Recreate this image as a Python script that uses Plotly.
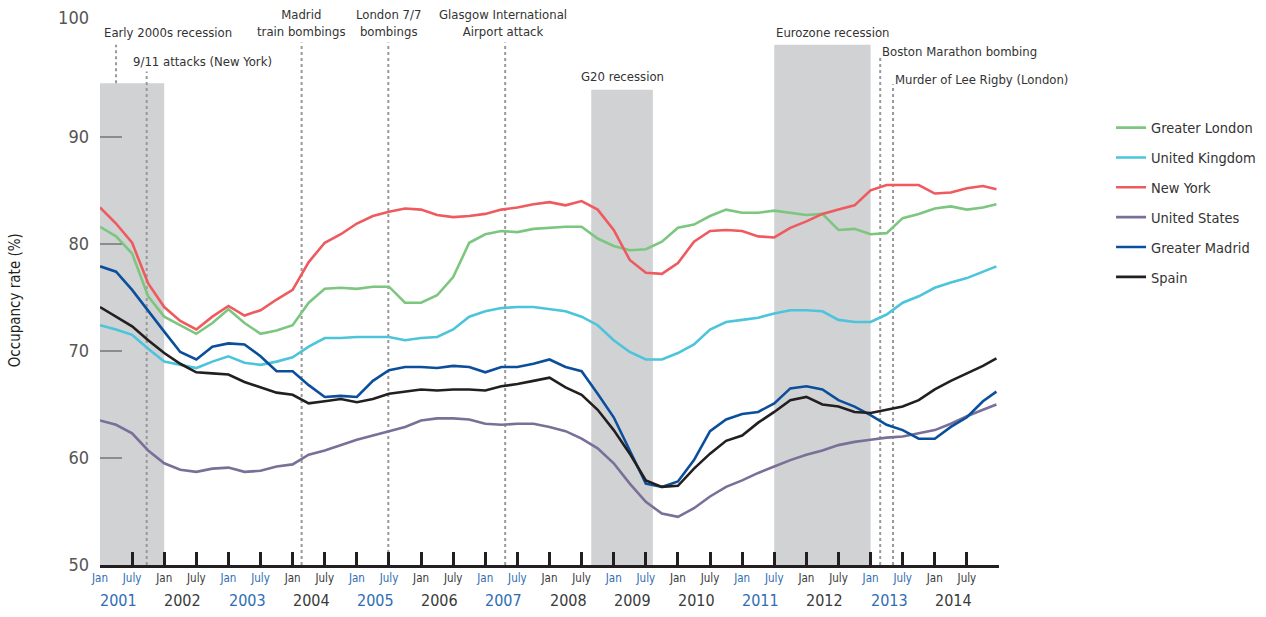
import plotly.graph_objects as go

# ---------------- data (quarterly readings, decimal years) ----------------
n_q = 56
t = [2001 + 0.25 * i for i in range(n_q)] + [2014.96]

greater_london = [81.6, 80.7, 79.1, 75.1, 73.2, 72.4, 71.6, 72.6, 73.9, 72.6, 71.6, 71.9,
                  72.4, 74.5, 75.8, 75.9, 75.8, 76.0, 76.0, 74.5, 74.5, 75.2, 76.9, 80.1,
                  80.9, 81.2, 81.1, 81.4, 81.5, 81.6, 81.6, 80.5, 79.8, 79.4, 79.5, 80.2,
                  81.5, 81.8, 82.6, 83.2, 82.9, 82.9, 83.1, 82.9, 82.7, 82.8, 81.3, 81.4,
                  80.9, 81.0, 82.4, 82.8, 83.3, 83.5, 83.2, 83.4, 83.7]
united_kingdom = [72.4, 72.0, 71.5, 70.2, 69.0, 68.7, 68.4, 69.0, 69.5, 68.9, 68.7, 69.0,
                  69.4, 70.4, 71.2, 71.2, 71.3, 71.3, 71.3, 71.0, 71.2, 71.3, 72.0, 73.2,
                  73.7, 74.0, 74.1, 74.1, 73.9, 73.7, 73.2, 72.4, 71.0, 69.9, 69.2, 69.2,
                  69.8, 70.6, 72.0, 72.7, 72.9, 73.1, 73.5, 73.8, 73.8, 73.7, 72.9, 72.7,
                  72.7, 73.4, 74.5, 75.1, 75.9, 76.4, 76.8, 77.4, 77.9]
new_york = [83.4, 81.9, 80.1, 76.3, 74.1, 72.8, 72.0, 73.2, 74.2, 73.3, 73.8, 74.8,
            75.7, 78.3, 80.1, 80.9, 81.9, 82.6, 83.0, 83.3, 83.2, 82.7, 82.5, 82.6,
            82.8, 83.2, 83.4, 83.7, 83.9, 83.6, 84.0, 83.2, 81.3, 78.5, 77.3, 77.2,
            78.2, 80.2, 81.2, 81.3, 81.2, 80.7, 80.6, 81.5, 82.1, 82.8, 83.2, 83.6,
            85.0, 85.5, 85.5, 85.5, 84.7, 84.8, 85.2, 85.4, 85.1]
united_states = [63.5, 63.1, 62.3, 60.7, 59.5, 58.9, 58.7, 59.0, 59.1, 58.7, 58.8, 59.2,
                 59.4, 60.3, 60.7, 61.2, 61.7, 62.1, 62.5, 62.9, 63.5, 63.7, 63.7, 63.6,
                 63.2, 63.1, 63.2, 63.2, 62.9, 62.5, 61.8, 60.9, 59.5, 57.6, 55.9, 54.8,
                 54.5, 55.3, 56.4, 57.3, 57.9, 58.6, 59.2, 59.8, 60.3, 60.7, 61.2, 61.5,
                 61.7, 61.9, 62.0, 62.3, 62.6, 63.2, 63.9, 64.5, 65.0]
greater_madrid = [77.9, 77.4, 75.7, 73.7, 71.8, 69.9, 69.2, 70.4, 70.7, 70.6, 69.5, 68.1,
                  68.1, 66.8, 65.7, 65.8, 65.7, 67.2, 68.2, 68.5, 68.5, 68.4, 68.6, 68.5,
                  68.0, 68.5, 68.5, 68.8, 69.2, 68.5, 68.1, 66.0, 63.8, 60.7, 57.6, 57.3,
                  57.8, 59.8, 62.5, 63.6, 64.1, 64.3, 65.1, 66.5, 66.7, 66.4, 65.4, 64.8,
                  64.0, 63.1, 62.6, 61.8, 61.8, 62.9, 63.8, 65.3, 66.2]
spain = [74.1, 73.2, 72.3, 71.0, 69.8, 68.8, 68.0, 67.9, 67.8, 67.1, 66.6, 66.1,
         65.9, 65.1, 65.3, 65.5, 65.2, 65.5, 66.0, 66.2, 66.4, 66.3, 66.4, 66.4,
         66.3, 66.7, 66.9, 67.2, 67.5, 66.6, 65.9, 64.5, 62.6, 60.4, 57.9, 57.3,
         57.4, 59.0, 60.4, 61.6, 62.1, 63.3, 64.3, 65.4, 65.7, 65.0, 64.8, 64.3,
         64.2, 64.5, 64.8, 65.4, 66.4, 67.2, 67.9, 68.6, 69.3]

series_names = ["Greater London", "United Kingdom", "New York", "United States",
                "Greater Madrid", "Spain"]
series_values = [greater_london, united_kingdom, new_york, united_states,
                 greater_madrid, spain]
series_colors = ["#7dc67f", "#4cc4db", "#ee5a5e", "#7a6f98", "#0b4f9c", "#231f20"]

# recessions: (label, start, end, top)
recession_labels = ["Early 2000s recession", "G20 recession", "Eurozone recession"]
recession_start = [2001.0, 2008.65, 2011.5]
recession_end = [2002.0, 2009.61, 2013.0]
recession_top = [95.0, 94.4, 98.6]

# events (dotted lines)
event_labels = ["9/11 attacks (New York)", "Madrid<br>train bombings", "London 7/7<br>bombings",
                "Glasgow International<br>Airport attack", "Boston Marathon bombing",
                "Murder of Lee Rigby (London)"]
event_dates = [2001.727, 2004.14, 2005.49, 2007.31, 2013.15, 2013.35]
event_line_top = [96.1, 98.8, 98.8, 98.8, 97.5, 94.9]

years = list(range(2001, 2015))
blue_years = [2001, 2003, 2005, 2007, 2011, 2013]
blue_tick_years = [2001, 2003, 2005, 2007, 2009, 2011, 2013]

FONT = "DejaVu Sans Condensed, Liberation Sans Narrow, Arial Narrow, sans-serif"
BLUE = "#2f6db3"
DARK = "#3a3a3a"

fig = go.Figure()

for i, (nm, vals, col) in enumerate(zip(series_names, series_values, series_colors)):
    fig.add_trace(go.Scatter(x=t, y=vals, mode="lines", name=nm,
                             legendgroup=nm,
                             line=dict(color=col, width=2.6)))

shapes = []
for s, e, top in zip(recession_start, recession_end, recession_top):
    shapes.append(dict(type="rect", xref="x", yref="y", x0=s, x1=e, y0=50, y1=top,
                       fillcolor="#d1d2d4", line=dict(width=0), layer="below"))
# connector from early-2000s label to its box
shapes.append(dict(type="line", xref="x", yref="y", x0=2001.25, x1=2001.25, y0=95.0, y1=98.6,
                   line=dict(color="#999999", width=2, dash="dot"), layer="below"))
for d, top in zip(event_dates, event_line_top):
    shapes.append(dict(type="line", xref="x", yref="y", x0=d, x1=d, y0=50, y1=top,
                       line=dict(color="#999999", width=2, dash="dot"), layer="below"))

ann_font = dict(family=FONT, size=13, color="#333333")
annotations = []
# recession labels
annotations.append(dict(x=2002.055, y=99.7, text=recession_labels[0]))
annotations.append(dict(x=2009.13, y=95.6, text=recession_labels[1]))
annotations.append(dict(x=2012.40, y=99.7, text=recession_labels[2]))
# event labels
annotations.append(dict(x=2002.60, y=97.0, text=event_labels[0]))
annotations.append(dict(x=2004.14, y=100.65, text=event_labels[1]))
annotations.append(dict(x=2005.49, y=100.65, text=event_labels[2]))
annotations.append(dict(x=2007.28, y=100.65, text=event_labels[3]))
annotations.append(dict(x=2013.15, y=98.0, text=event_labels[4], xanchor="left"))
annotations.append(dict(x=2013.35, y=95.4, text=event_labels[5], xanchor="left"))
for a in annotations:
    a.update(xref="x", yref="y", showarrow=False, font=ann_font)
    a.setdefault("xanchor", "center")

# year labels under the axis
for yr in years:
    annotations.append(dict(x=yr + 0.29, y=-0.065, xref="x", yref="paper",
                            text=str(yr), showarrow=False, yanchor="middle",
                            font=dict(family=FONT, size=16,
                                      color=BLUE if yr in blue_years else DARK)))
# y-axis title
annotations.append(dict(x=-0.0945, y=0.484, xref="paper", yref="paper",
                        xanchor="center", yanchor="middle",
                        text="Occupancy rate (%)", textangle=-90, showarrow=False,
                        font=dict(family=FONT, size=15, color="#231f20")))

tickvals_x, ticktext_x = [], []
for yr in years:
    c = BLUE if yr in blue_tick_years else DARK
    tickvals_x += [yr, yr + 0.5]
    ticktext_x += [f"<span style='color:{c}'>Jan</span>", f"<span style='color:{c}'>July</span>"]

fig.update_layout(
    width=1266, height=617,
    margin=dict(l=100, r=267, t=18, b=52, autoexpand=False),
    paper_bgcolor="white", plot_bgcolor="white",
    font=dict(family=FONT, color="#444444"),
    showlegend=True,
    legend=dict(xref="container", yref="container", x=0.8776, y=0.819,
                xanchor="left", yanchor="top",
                font=dict(family=FONT, size=14.5, color="#333333"),
                traceorder="grouped", tracegroupgap=8, itemwidth=30,
                bgcolor="rgba(0,0,0,0)"),
    xaxis=dict(range=[2001, 2015], showgrid=False, zeroline=False,
               showline=True, linecolor="#231f20", linewidth=3,
               ticks="inside", ticklen=13, tickwidth=3, tickcolor="#231f20",
               tickvals=tickvals_x, ticktext=ticktext_x,
               tickfont=dict(family=FONT, size=11.5)),
    yaxis=dict(range=[50, 101.1], showgrid=False, zeroline=False, showline=False,
               ticks="inside", ticklen=22, tickwidth=2, tickcolor="#8c8c8c",
               tickvals=[50, 60, 70, 80, 90, 101.1],
               ticktext=["50", "60", "70", "80", "90", "100"],
               ticklabelstandoff=10,
               tickfont=dict(family=FONT, size=18, color="#555555")),
    shapes=shapes,
    annotations=annotations,
)

fig.write_html("out.html", config={"displayModeBar": False},
               post_script="document.body.style.margin='0';")
